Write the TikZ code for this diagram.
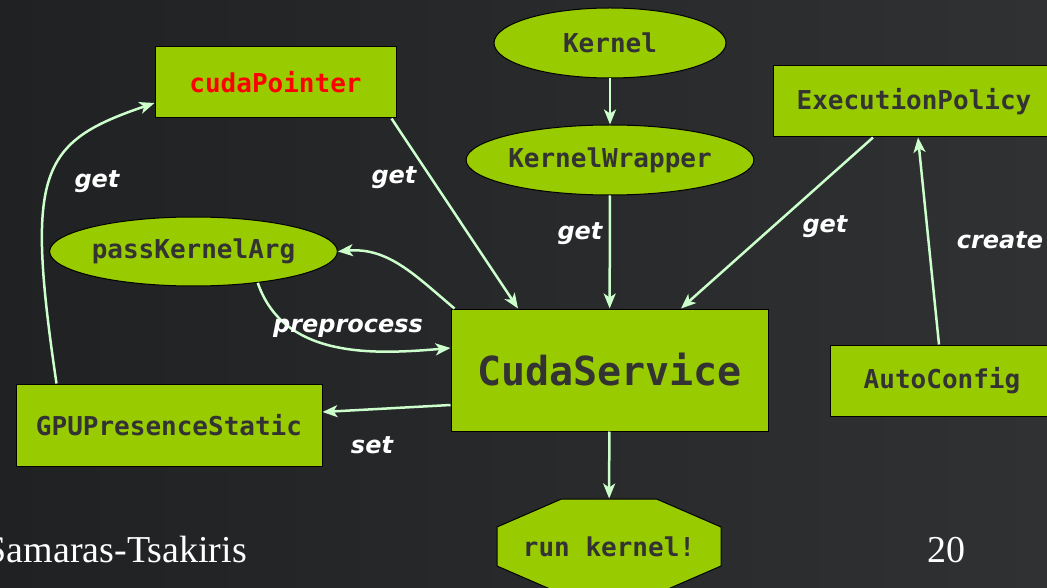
\documentclass[tikz,border=0pt]{standalone}
\usepackage{fontspec}
\setmainfont{Liberation Serif}
\setmonofont{DejaVu Sans Mono}
\newfontfamily\lblfont{DejaVu Sans}
\usepackage{tikz}
\usetikzlibrary{arrows.meta,positioning,calc,shapes.geometric}
\definecolor{nvgreen}{HTML}{99CC00}
\definecolor{txtgris}{HTML}{333333}
\definecolor{menthe}{HTML}{CCFFCC}
\definecolor{fondA}{RGB}{32,33,34}
\definecolor{fondB}{RGB}{47,49,51}
\tikzset{
  boite/.style={rectangle, draw=black, line width=1pt, fill=nvgreen, text=txtgris,
                inner sep=0pt, font=\ttfamily\bfseries\fontsize{26}{30}\selectfont},
  ovale/.style={ellipse, draw=black, line width=1pt, fill=nvgreen, text=txtgris,
                inner sep=0pt, font=\ttfamily\bfseries\fontsize{26}{30}\selectfont},
  octo/.style={draw=black, line width=1pt, fill=nvgreen},
  etiq/.style={text=white, inner sep=0pt, anchor=base,
               font=\lblfont\bfseries\itshape\fontsize{24}{28}\selectfont},
  pied/.style={text=white, inner sep=0pt, font=\rmfamily\fontsize{38}{44}\selectfont},
  arr/.style={-{Stealth[length=15pt, width=12pt, inset=4pt]}, line width=2.5pt, draw=menthe},
}
\begin{document}
\begin{tikzpicture}[x=1pt, y=-1pt]
    \useasboundingbox (0,0) rectangle (1047,588);
    \shade[left color=fondA, right color=fondB] (0,0) rectangle (1047,588);
    % noeuds
    \node[boite, minimum width=241pt, minimum height=71pt, text=red] (cptr) at (275.5,82.5) {cudaPointer};
    \node[ovale, minimum width=232pt, minimum height=70pt] (kern) at (610,43) {Kernel};
    \node[ovale, minimum width=264pt, minimum height=70pt] (wrap) at (610,160) {KernelWrapper};
    \node[boite, minimum width=282pt, minimum height=71pt] (exec) at (914,101.5) {ExecutionPolicy};
    \node[ovale, minimum width=279pt, minimum height=69pt] (pka) at (193.5,251.5) {passKernelArg};
    \node[boite, minimum width=317pt, minimum height=122pt,
          font=\ttfamily\bfseries\fontsize{40}{46}\selectfont] (cuda) at (609.5,370) {CudaService};
    \node[boite, minimum width=224pt, minimum height=71pt] (auto) at (942,380.5) {AutoConfig};
    \node[boite, minimum width=306pt, minimum height=82pt] (gpu) at (169,425) {GPUPresenceStatic};
    \coordinate (runc) at (609,546.5);
    \draw[octo] (runc) ++(-47.5,-47.5) -- ++(95,0) -- ++(64.5,28) -- ++(0,39) -- ++(-64.5,28)
      -- ++(-95,0) -- ++(-64.5,-28) -- ++(0,-39) -- cycle;
    \node[ovale, shape=rectangle, draw=none, fill=none, minimum width=224pt, minimum height=95pt] (run) at (runc) {run kernel!};
    % fleches
    \draw[arr] (kern) -- (wrap);
    \draw[arr] (wrap) -- (cuda);
    \draw[arr] ([xshift=-5pt]cptr.south east) -- ([xshift=-91.5pt]cuda.north);
    \draw[arr] ([xshift=-41pt]exec.south) -- ([xshift=71.5pt]cuda.north);
    \draw[arr] ([xshift=-3pt]auto.north) -- ([xshift=4pt]exec.south);
    \draw[arr] ([xshift=4pt]cuda.north west) to[out=140, in=5] (pka.east);
    \draw[arr] (pka.-26) to[out=-71, in=185] ([yshift=22pt]cuda.west);
    \draw[arr] ([yshift=-35pt]cuda.west) -- ([yshift=13pt]gpu.east);
    \draw[arr] ([xshift=41pt]gpu.north west) .. controls (25,170) and (40,142) .. ([yshift=-20.5pt]cptr.west);
    \draw[arr] (cuda) -- (run);
    % etiquettes
    \node[etiq] (getgpu) at (97,188) {get};
    \node[etiq] (getcptr) at (394,184) {get};
    \node[etiq] (getwrap) at (580,240) {get};
    \node[etiq] (getexec) at (825,233) {get};
    \node[etiq] (create) at (1000,249) {create};
    \node[etiq] (prep) at (348,332) {preprocess};
    \node[etiq] (set) at (372,453) {set};
    % pied de page
    \node[pied, anchor=base east] (auteur) at (247,562) {Samaras-Tsakiris};
    \node[pied, anchor=base] (page) at (946.5,562) {20};
\end{tikzpicture}
\end{document}
